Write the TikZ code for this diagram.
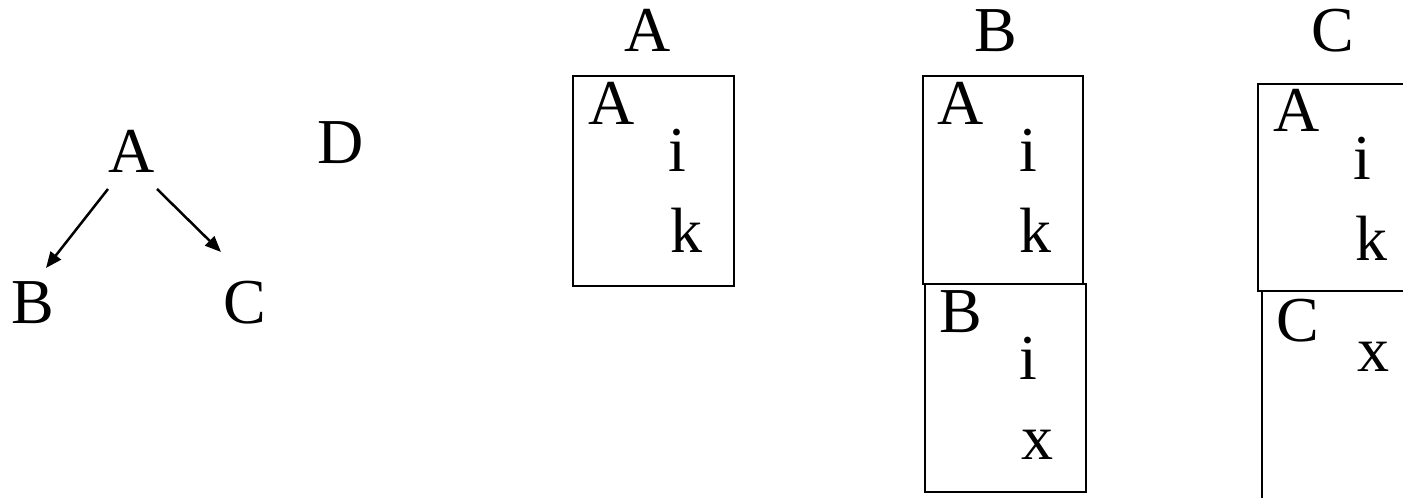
\documentclass[tikz,border=0pt]{standalone}
\usepackage{fontspec}
\setmainfont{Liberation Serif}
\usetikzlibrary{arrows.meta}
\begin{document}
\begin{tikzpicture}[x=1pt,y=1pt,
  lbl/.style={inner sep=0pt,anchor=base,font=\fontsize{64}{70}\selectfont},
  frame/.style={line width=2.5pt},
  arr/.style={line width=2.5pt,-{Triangle[length=16pt,width=13pt]}}]
\useasboundingbox (0,0) rectangle (1403,498);

% tree
\node[lbl] (tA) at (132,325) {A};
\node[lbl] (tB) at (33,174) {B};
\node[lbl] (tC) at (245,174) {C};
\node[lbl] (tD) at (341,334) {D};
\coordinate (ab) at ([shift={(-24,-16)}]tA.base);
\coordinate (ac) at ([shift={(25,-16)}]tA.base);
\coordinate (bt) at ([shift={(13,56)}]tB.base);
\coordinate (ct) at ([shift={(-24,72)}]tC.base);
\draw[arr] (ab) -- (bt);
\draw[arr] (ac) -- (ct);

% column headings
\node[lbl] (hA) at (648,446) {A};
\node[lbl] (hB) at (996,446) {B};
\node[lbl] (hC) at (1333,446) {C};

% stack when in A
\draw[frame] (573,422) rectangle (734,212);
\node[lbl] (a1) at (612,373) {A};
\node[lbl] (a1i) at (677,326) {i};
\node[lbl] (a1k) at (686,245) {k};

% stack when in B
\draw[frame] (923,422) rectangle (1083,214);
\node[lbl] (a2) at (961,373) {A};
\node[lbl] (a2i) at (1028,326) {i};
\node[lbl] (a2k) at (1035,245) {k};
\draw[frame] (925,214) rectangle (1086,6);
\node[lbl] (b2) at (961,165) {B};
\node[lbl] (b2i) at (1028,118) {i};
\node[lbl] (b2x) at (1037,38) {x};

% stack when in C
\draw[frame] (1420,414) -- (1258,414) -- (1258,207) -- (1420,207);
\draw[frame] (1262,207) -- (1262,-10);
\node[lbl] (a3) at (1297,366) {A};
\node[lbl] (a3i) at (1362,318) {i};
\node[lbl] (a3k) at (1371,237) {k};
\node[lbl] (c3) at (1298,156) {C};
\node[lbl] (c3x) at (1373,126) {x};
\end{tikzpicture}
\end{document}
